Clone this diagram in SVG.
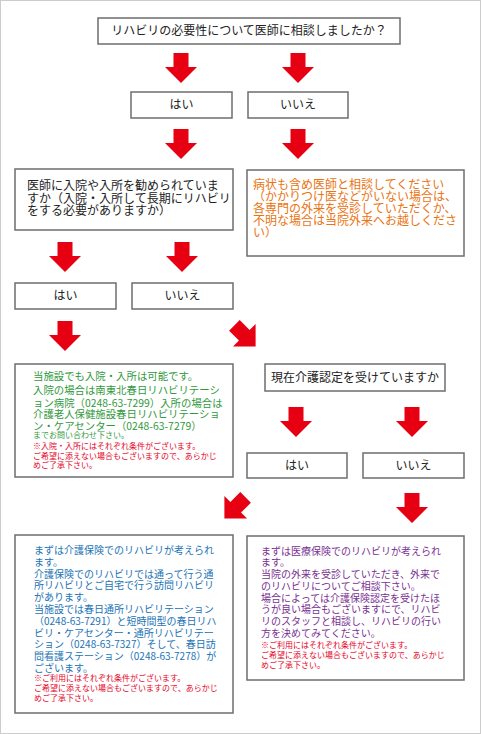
<svg xmlns="http://www.w3.org/2000/svg" xmlns:xlink="http://www.w3.org/1999/xlink" width="481" height="734" viewBox="0 0 481 734">
<style>
.box{fill:#fff;stroke:#6e6e6e;stroke-width:1.5}
.t{font-family:"Noto Sans CJK JP","Noto Sans CJK SC",sans-serif;font-size:12px;fill:#222}
.c{text-anchor:middle}
.or{fill:#ea7412}
.gr{font-size:10.4px;fill:#2f9a3c}
.bl{font-size:10px;fill:#2273b5}
.pu{font-size:10px;fill:#7a2f93}
.sm{font-size:8px}
.rd{fill:#e60026}
.arrow{fill:#e60012}
</style>
<defs>
<path id="arr" d="M-7.5,-15 H7.5 V-1 H16 L0,15 L-16,-1 H-7.5 Z"/>
</defs>
<rect x="0.5" y="0.5" width="480" height="733" fill="#fff" stroke="#cccccc"/>
<g id="connectors" class="arrow">
<use xlink:href="#arr" transform="translate(181,68)"/>
<use xlink:href="#arr" transform="translate(298,68)"/>
<use xlink:href="#arr" transform="translate(181,144)"/>
<use xlink:href="#arr" transform="translate(298,144)"/>
<use xlink:href="#arr" transform="translate(65,257)"/>
<use xlink:href="#arr" transform="translate(182,257)"/>
<use xlink:href="#arr" transform="translate(65,336)"/>
<use xlink:href="#arr" transform="translate(245,336) rotate(-45)"/>
<use xlink:href="#arr" transform="translate(296,422)"/>
<use xlink:href="#arr" transform="translate(412,422)"/>
<use xlink:href="#arr" transform="translate(235,508) rotate(45)"/>
<use xlink:href="#arr" transform="translate(412,508)"/>
</g>
<g id="q1">
<rect class="box" x="98" y="18" width="302" height="26"/>
<text class="t c" x="249" y="35">リハビリの必要性について医師に相談しましたか？</text>
</g>
<g id="q1-yes">
<rect class="box" x="131" y="92" width="101" height="26"/>
<text class="t c" x="181.5" y="109">はい</text>
</g>
<g id="q1-no">
<rect class="box" x="248" y="92" width="100" height="26"/>
<text class="t c" x="298" y="109">いいえ</text>
</g>
<g id="q2">
<rect class="box" x="15" y="169" width="218" height="61"/>
<text class="t" x="27" y="190">医師に入院や入所を勧められていま</text>
<text class="t" x="27" y="202.5">すか（入院・入所して長期にリハビリ</text>
<text class="t" x="27" y="215">をする必要がありますか）</text>
</g>
<g id="consult">
<rect class="box" x="247" y="170" width="217" height="86"/>
<text class="t or" x="253" y="189">病状も含め医師と相談してください</text>
<text class="t or" x="253" y="201">（かかりつけ医などがいない場合は、</text>
<text class="t or" x="253" y="213">各専門の外来を受診していただくか、</text>
<text class="t or" x="253" y="224.5">不明な場合は当院外来へお越しくださ</text>
<text class="t or" x="253" y="236.5">い）</text>
</g>
<g id="q2-yes">
<rect class="box" x="15" y="283" width="101" height="26"/>
<text class="t c" x="65.5" y="300">はい</text>
</g>
<g id="q2-no">
<rect class="box" x="132" y="283" width="101" height="26"/>
<text class="t c" x="182.5" y="300">いいえ</text>
</g>
<g id="admission">
<rect class="box" x="15" y="364" width="218" height="113"/>
<text class="t gr" x="33" y="380">当施設でも入院・入所は可能です。</text>
<text class="t gr" x="33" y="394">入院の場合は南東北春日リハビリテーシ</text>
<text class="t gr" x="33" y="406.5">ョン病院（0248-63-7299）入所の場合は</text>
<text class="t gr" x="33" y="418">介護老人保健施設春日リハビリテーショ</text>
<text class="t gr" x="33" y="429.5">ン・ケアセンター（0248-63-7279）</text>
<text class="t gr sm" x="33" y="437.5">までお問い合わせ下さい。</text>
<text class="t sm rd" x="33" y="449">※入院・入所にはそれぞれ条件がございます。</text>
<text class="t sm rd" x="33" y="458.5">ご希望に添えない場合もございますので、あらかじ</text>
<text class="t sm rd" x="33" y="468">めご了承下さい。</text>
</g>
<g id="q3">
<rect class="box" x="265" y="364" width="180" height="27"/>
<text class="t c" x="355" y="381.5">現在介護認定を受けていますか</text>
</g>
<g id="q3-yes">
<rect class="box" x="247" y="453" width="100" height="25"/>
<text class="t c" x="297" y="469.5">はい</text>
</g>
<g id="q3-no">
<rect class="box" x="363" y="453" width="101" height="25"/>
<text class="t c" x="413.5" y="469.5">いいえ</text>
</g>
<g id="care-insurance">
<rect class="box" x="15" y="535" width="218" height="178"/>
<text class="t bl" x="34" y="554">まずは介護保険でのリハビリが考えられ</text>
<text class="t bl" x="34" y="565.8">ます。</text>
<text class="t bl" x="34" y="577.6">介護保険でのリハビリでは通って行う通</text>
<text class="t bl" x="34" y="589.4">所リハビリとご自宅で行う訪問リハビリ</text>
<text class="t bl" x="34" y="601.2">があります。</text>
<text class="t bl" x="34" y="613">当施設では春日通所リハビリテーション</text>
<text class="t bl" x="34" y="624.8">（0248-63-7291）と短時間型の春日リハ</text>
<text class="t bl" x="34" y="636.6">ビリ・ケアセンター・通所リハビリテー</text>
<text class="t bl" x="34" y="648.4">ション（0248-63-7327）そして、春日訪</text>
<text class="t bl" x="34" y="660.2">問看護ステーション（0248-63-7278）が</text>
<text class="t bl" x="34" y="672">ございます。</text>
<text class="t sm rd" x="34" y="680.5">※ご利用にはそれぞれ条件がございます。</text>
<text class="t sm rd" x="34" y="691">ご希望に添えない場合もございますので、あらかじ</text>
<text class="t sm rd" x="34" y="701">めご了承下さい。</text>
</g>
<g id="medical-insurance">
<rect class="box" x="247" y="536" width="217" height="144"/>
<text class="t pu" x="261" y="554.5">まずは医療保険でのリハビリが考えられ</text>
<text class="t pu" x="261" y="566.3">ます。</text>
<text class="t pu" x="261" y="578">当院の外来を受診していただき、外来で</text>
<text class="t pu" x="261" y="589.8">のリハビリについてご相談下さい。</text>
<text class="t pu" x="261" y="601.6">場合によっては介護保険認定を受けたほ</text>
<text class="t pu" x="261" y="613.4">うが良い場合もございますにで、リハビ</text>
<text class="t pu" x="261" y="625.2">リのスタッフと相談し、リハビリの行い</text>
<text class="t pu" x="261" y="637">方を決めてみてください。</text>
<text class="t sm rd" x="261" y="648">※ご利用にはそれぞれ条件がございます。</text>
<text class="t sm rd" x="261" y="658">ご希望に添えない場合もございますので、あらかじ</text>
<text class="t sm rd" x="261" y="668">めご了承下さい。</text>
</g>
</svg>
